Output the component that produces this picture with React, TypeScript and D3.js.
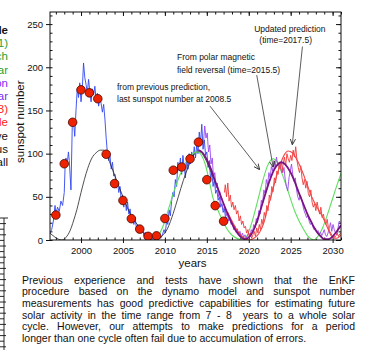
import React, { useEffect, useRef } from 'react';
import * as d3 from 'd3';

type Pt = [number, number];

// yearly sunspot numbers (red dots)
const dotYears = [1997, 1998, 1999, 2000, 2001, 2002, 2003, 2004, 2005, 2006, 2007, 2008, 2009, 2010, 2011, 2012, 2013, 2014, 2015, 2016, 2017];
const dotValues = [28.9, 88.3, 136.3, 173.9, 170.4, 163.6, 99.3, 65.3, 45.8, 24.7, 12.6, 4.2, 4.8, 24.9, 80.8, 84.5, 94.0, 113.3, 69.8, 39.8, 21.7];

// observed sunspot number (blue)
const observed: Pt[] = [
  [1996.3, 8], [1996.5, 12], [1996.7, 22], [1996.9, 40], [1997.0, 30], [1997.2, 38], [1997.4, 33], [1997.6, 45],
  [1997.8, 40], [1998.0, 55], [1998.1, 85], [1998.2, 95], [1998.35, 88], [1998.5, 102], [1998.6, 92], [1998.8, 58],
  [1998.95, 130], [1999.1, 138], [1999.25, 120], [1999.4, 150], [1999.55, 175], [1999.7, 165], [1999.85, 182],
  [2000.0, 160], [2000.15, 175], [2000.3, 205], [2000.45, 188], [2000.6, 180], [2000.75, 170], [2000.9, 186],
  [2001.05, 172], [2001.2, 160], [2001.35, 175], [2001.5, 168], [2001.65, 178], [2001.8, 162], [2001.95, 170],
  [2002.1, 155], [2002.25, 165], [2002.4, 158], [2002.55, 148], [2002.7, 157], [2002.85, 140], [2003.0, 118],
  [2003.15, 100], [2003.3, 92], [2003.45, 98], [2003.6, 82], [2003.75, 90], [2003.9, 74], [2004.05, 76],
  [2004.2, 60], [2004.35, 68], [2004.5, 55], [2004.65, 62], [2004.8, 45], [2004.95, 52], [2005.1, 38],
  [2005.25, 50], [2005.4, 34], [2005.55, 44], [2005.7, 30], [2005.85, 36], [2006.0, 24], [2006.15, 28],
  [2006.3, 18], [2006.45, 26], [2006.6, 14], [2006.75, 18], [2006.9, 10], [2007.05, 14], [2007.2, 8],
  [2007.35, 12], [2007.5, 5], [2007.65, 9], [2007.8, 3], [2007.95, 6], [2008.1, 2], [2008.3, 5], [2008.5, 1],
  [2008.7, 3], [2008.9, 2], [2009.1, 1], [2009.3, 4], [2009.5, 2], [2009.7, 6], [2009.9, 12], [2010.05, 8],
  [2010.2, 22], [2010.35, 18], [2010.5, 35], [2010.65, 28], [2010.8, 45], [2010.95, 55], [2011.1, 50],
  [2011.25, 70], [2011.4, 62], [2011.55, 90], [2011.7, 80], [2011.85, 95], [2012.0, 76], [2012.15, 98],
  [2012.3, 85], [2012.45, 72], [2012.6, 95], [2012.75, 82], [2012.9, 100], [2013.05, 88], [2013.2, 102],
  [2013.35, 92], [2013.5, 108], [2013.65, 95], [2013.8, 110], [2013.95, 100], [2014.1, 125], [2014.25, 112],
  [2014.4, 134], [2014.55, 105], [2014.7, 116], [2014.85, 98], [2015.0, 102], [2015.15, 84], [2015.3, 92],
  [2015.45, 70], [2015.6, 78], [2015.75, 62], [2015.9, 70], [2016.05, 54], [2016.2, 58], [2016.35, 46],
  [2016.5, 50], [2016.65, 38], [2016.8, 42], [2016.95, 32], [2017.1, 36], [2017.25, 24], [2017.4, 27],
];

// model curve (black)
const modelCurve: Pt[] = [
  [1996.3, 8], [1996.8, 4], [1997.3, 1], [1997.7, 0], [1998.2, 3], [1998.7, 11], [1999.1, 22], [1999.5, 35],
  [2000.0, 55], [2000.4, 70], [2000.8, 83], [2001.3, 95], [2001.8, 101], [2002.3, 104], [2002.7, 104],
  [2003.1, 98], [2003.5, 88], [2003.9, 78], [2004.4, 65], [2005.0, 50], [2005.5, 38], [2006.0, 28],
  [2006.7, 18], [2007.3, 10], [2007.9, 4], [2008.6, 0], [2009.2, 1], [2009.7, 5], [2010.3, 13], [2011.0, 31],
  [2011.6, 50], [2012.2, 69], [2012.8, 85], [2013.3, 96], [2013.8, 102], [2014.2, 102], [2014.7, 96],
  [2015.2, 86], [2015.7, 74], [2016.2, 62],
];

// previous prediction, last sunspot number at 2008.5 (green)
const prevPrediction: Pt[] = [
  [2008.5, 3], [2009.0, 4], [2009.5, 10], [2010.0, 22], [2010.5, 38], [2011.0, 54], [2011.5, 68], [2012.0, 80],
  [2012.5, 90], [2013.0, 97], [2013.5, 101], [2013.9, 102], [2014.3, 99], [2014.8, 88], [2015.3, 68],
  [2015.7, 50], [2016.3, 35], [2017.0, 20], [2017.6, 10], [2018.2, 4], [2018.8, 1], [2019.3, 0], [2019.8, 5],
  [2020.3, 18], [2021.0, 43], [2021.6, 66], [2022.2, 85], [2022.9, 94], [2023.4, 90], [2024.0, 76],
  [2024.5, 62], [2024.9, 50], [2025.5, 33], [2026.0, 22], [2026.5, 13], [2027.0, 5], [2027.8, 0], [2028.3, 5],
  [2028.8, 14], [2029.3, 27], [2029.8, 42], [2030.4, 60], [2031.0, 77],
];

// polar field reversal prediction, time = 2015.5 (purple)
const polarMean: Pt[] = [
  [2014.0, 104], [2014.5, 101], [2015.0, 93], [2015.5, 82], [2016.0, 68], [2016.5, 55], [2017.0, 42],
  [2017.5, 30], [2018.0, 19], [2018.5, 10], [2019.0, 4], [2019.5, 1], [2020.0, 3], [2020.5, 10], [2021.0, 22],
  [2021.5, 38], [2022.0, 54], [2022.5, 69], [2023.0, 81], [2023.5, 88], [2023.9, 90], [2024.4, 87],
  [2025.0, 78], [2025.5, 67], [2026.0, 54], [2026.5, 42], [2027.0, 30], [2027.5, 20], [2028.0, 11],
  [2028.5, 5], [2029.0, 1], [2029.5, 1], [2030.0, 4], [2030.5, 10], [2031.0, 17],
];
const polarMonthly: Pt[] = [
  [2014.6, 112], [2014.75, 132], [2014.9, 118], [2015.05, 124], [2015.2, 102], [2015.35, 110], [2015.5, 88],
  [2015.65, 95], [2015.8, 72], [2015.95, 78], [2016.1, 60], [2016.25, 66], [2016.4, 50], [2016.55, 56],
  [2016.7, 42], [2016.85, 40], [2017.0, 35], [2017.15, 38], [2017.3, 28], [2017.45, 32], [2017.6, 22],
  [2017.75, 26], [2017.9, 18], [2018.05, 20], [2018.2, 12], [2018.35, 16], [2018.5, 9], [2018.65, 13],
  [2018.8, 6], [2018.95, 10], [2019.1, 4], [2019.25, 8], [2019.4, 3], [2019.55, 6], [2019.7, 2], [2019.85, 5],
  [2020.0, 8], [2020.15, 4], [2020.3, 12], [2020.45, 9], [2020.6, 18], [2020.75, 14], [2020.9, 25],
  [2021.05, 20], [2021.2, 34], [2021.35, 30], [2021.5, 46], [2021.65, 42], [2021.8, 58], [2021.95, 54],
  [2022.1, 70], [2022.25, 64], [2022.4, 78], [2022.55, 72], [2022.7, 85], [2022.85, 80], [2023.0, 92],
  [2023.15, 84], [2023.3, 96], [2023.45, 88], [2023.6, 86], [2023.75, 82], [2023.9, 90], [2024.05, 78],
  [2024.2, 84], [2024.35, 70], [2024.5, 62], [2024.65, 57], [2024.8, 72], [2024.95, 80], [2025.1, 88],
  [2025.25, 76], [2025.4, 68], [2025.55, 72], [2025.7, 58], [2025.85, 50], [2026.0, 46], [2026.15, 52],
  [2026.3, 48], [2026.45, 40], [2026.6, 34], [2026.75, 30], [2026.9, 26], [2027.05, 28], [2027.2, 22],
  [2027.35, 18], [2027.5, 20], [2027.65, 15], [2027.8, 12], [2027.95, 14], [2028.1, 9], [2028.25, 11],
  [2028.4, 7], [2028.55, 9], [2028.7, 5], [2028.85, 8], [2029.0, 12], [2029.15, 6], [2029.3, 4], [2029.45, 8],
  [2029.6, 14], [2029.75, 20], [2029.9, 10], [2030.05, 18], [2030.2, 12], [2030.35, 8], [2030.5, 6],
  [2030.65, 14], [2030.8, 22], [2031.0, 20],
];

// updated prediction, time = 2017.5 (red)
const updatedMean: Pt[] = [
  [2017.5, 32], [2018.0, 22], [2018.5, 13], [2019.0, 6], [2019.5, 2], [2020.1, 0], [2020.6, 2], [2021.0, 5],
  [2021.3, 9], [2021.8, 20], [2022.2, 35], [2022.7, 52], [2023.2, 70], [2023.7, 86], [2024.2, 98],
  [2024.7, 103], [2025.2, 101], [2025.8, 92], [2026.4, 79], [2026.9, 66], [2027.5, 50], [2028.2, 37],
  [2028.8, 27], [2029.4, 14], [2030.0, 3], [2030.5, 2], [2031.0, 6],
];
const updatedMonthly: Pt[] = [
  [2017.1, 55], [2017.2, 64], [2017.35, 50], [2017.5, 66], [2017.65, 45], [2017.8, 52], [2017.95, 38],
  [2018.1, 44], [2018.25, 35], [2018.4, 40], [2018.55, 30], [2018.7, 34], [2018.85, 22], [2019.0, 28],
  [2019.15, 18], [2019.3, 22], [2019.45, 14], [2019.6, 16], [2019.75, 8], [2019.9, 12], [2020.05, 4],
  [2020.2, 8], [2020.35, 2], [2020.5, 6], [2020.65, 10], [2020.8, 4], [2020.95, 14], [2021.1, 8],
  [2021.25, 18], [2021.4, 12], [2021.55, 24], [2021.7, 18], [2021.85, 32], [2022.0, 26], [2022.15, 40],
  [2022.3, 34], [2022.45, 52], [2022.6, 46], [2022.75, 62], [2022.9, 56], [2023.05, 72], [2023.2, 66],
  [2023.35, 80], [2023.5, 76], [2023.65, 90], [2023.8, 84], [2023.95, 78], [2024.1, 88], [2024.25, 96],
  [2024.4, 86], [2024.55, 100], [2024.7, 94], [2024.85, 90], [2025.0, 98], [2025.15, 92], [2025.3, 104],
  [2025.45, 96], [2025.6, 108], [2025.75, 92], [2025.9, 84], [2026.05, 78], [2026.2, 86], [2026.35, 72],
  [2026.5, 64], [2026.65, 70], [2026.8, 60], [2026.95, 68], [2027.1, 54], [2027.25, 50], [2027.4, 58],
  [2027.55, 44], [2027.7, 38], [2027.85, 42], [2028.0, 34], [2028.15, 44], [2028.3, 36], [2028.45, 30],
  [2028.6, 38], [2028.75, 26], [2028.9, 30], [2029.05, 22], [2029.2, 18], [2029.35, 24], [2029.5, 14],
  [2029.65, 10], [2029.8, 8], [2029.95, 4], [2030.1, 6], [2030.25, 3], [2030.4, 5], [2030.55, 8],
  [2030.7, 4], [2030.85, 7], [2031.0, 8],
];

const majorYears = [2000, 2005, 2010, 2015, 2020, 2025, 2030];
const majorValues = [0, 50, 100, 150, 200, 250];

// cropped legend text on the left edge of the slide
const sideFragments = ['le', '1)', 'ch', 'ar', 'on', 'ar', '3)', 'le', 've', 'us', 'all'];
const sideColors = ['#111', '#2ca02c', '#2ca02c', '#2ca02c', '#7a2df0', '#7a2df0', '#ff2020', '#ff2020', '#111', '#111', '#111'];

const bodyLines = [
  'Previous experience and tests have shown that the EnKF',
  'procedure based on the dynamo model and sunspot number',
  'measurements has good predictive capabilities for estimating future',
  'solar activity in the time range from 7 - 8  years to a whole solar',
  'cycle. However, our attempts to make predictions for a period',
  'longer than one cycle often fail due to accumulation of errors.',
];

export default function App() {
  const svgRef = useRef<SVGSVGElement>(null);

  useEffect(() => {
    if (!svgRef.current) return;
    const svg = d3.select(svgRef.current);
    svg.selectAll('*').remove();
    const font = 'Arial, "Liberation Sans", Helvetica, sans-serif';

    const x = d3.scaleLinear().domain([1996.3, 2031]).range([50, 341]);
    const y = d3.scaleLinear().domain([0, 264]).range([240, 12]);

    const defs = svg.append('defs');
    defs.append('clipPath').attr('id', 'plot').append('rect')
      .attr('x', 50).attr('y', 12).attr('width', 291).attr('height', 228);
    defs.append('marker').attr('id', 'arr').attr('viewBox', '0 0 8 8')
      .attr('refX', 7).attr('refY', 4).attr('markerWidth', 6).attr('markerHeight', 6)
      .attr('markerUnits', 'userSpaceOnUse').attr('orient', 'auto')
      .append('path').attr('d', 'M0,0.5 L8,4 L0,7.5').attr('fill', 'none').attr('stroke', '#333').attr('stroke-width', 1.2);

    // axes
    const styleAxis = (g: d3.Selection<SVGGElement, unknown, null, undefined>) => {
      g.select('.domain').remove();
      g.selectAll('line').attr('stroke', '#111');
      g.selectAll('text').attr('font-family', font).attr('font-size', 9.5).attr('fill', '#111');
    };
    const minorYears = d3.range(1997, 2032);
    const minorValues = d3.range(0, 261, 10);

    svg.append('g').attr('transform', 'translate(0,240)')
      .call(d3.axisBottom(x).tickValues(minorYears).tickSize(-2.5).tickFormat(() => '')).call(styleAxis);
    svg.append('g').attr('transform', 'translate(0,240)')
      .call(d3.axisBottom(x).tickValues(majorYears).tickSize(3).tickPadding(4).tickFormat(d3.format('d'))).call(styleAxis);
    svg.append('g').attr('transform', 'translate(0,12)')
      .call(d3.axisTop(x).tickValues(minorYears).tickSize(-2.5).tickFormat(() => '')).call(styleAxis);
    svg.append('g').attr('transform', 'translate(0,12)')
      .call(d3.axisTop(x).tickValues(majorYears).tickSize(-4).tickFormat(() => '')).call(styleAxis);

    svg.append('g').attr('transform', 'translate(50,0)')
      .call(d3.axisLeft(y).tickValues(minorValues).tickSize(-2.5).tickFormat(() => '')).call(styleAxis);
    svg.append('g').attr('transform', 'translate(50,0)')
      .call(d3.axisLeft(y).tickValues(majorValues).tickSize(4).tickPadding(3).tickFormat(d3.format('d'))).call(styleAxis);
    svg.append('g').attr('transform', 'translate(341,0)')
      .call(d3.axisRight(y).tickValues(minorValues).tickSize(-2.5).tickFormat(() => '')).call(styleAxis);
    svg.append('g').attr('transform', 'translate(341,0)')
      .call(d3.axisRight(y).tickValues(majorValues).tickSize(-5).tickFormat(() => '')).call(styleAxis);

    // series
    const plot = svg.append('g').attr('clip-path', 'url(#plot)');
    const line = d3.line<Pt>().x(d => x(d[0])).y(d => y(d[1]));
    const smooth = d3.line<Pt>().x(d => x(d[0])).y(d => y(d[1])).curve(d3.curveMonotoneX);
    const draw = (data: Pt[], gen: d3.Line<Pt>, color: string, w: number) =>
      plot.append('path').datum(data).attr('d', gen).attr('fill', 'none')
        .attr('stroke', color).attr('stroke-width', w).attr('stroke-linejoin', 'round');

    draw(observed, line, '#3146ee', 0.9);
    draw(modelCurve, smooth, '#222', 0.8);
    draw(prevPrediction, smooth, '#5ee05e', 1.1);
    draw(polarMonthly, line, '#9b45f0', 0.9);
    draw(updatedMonthly, line, '#f03a3a', 0.9);
    draw(updatedMean, smooth, '#f04848', 1.1);
    draw(polarMean, smooth, '#7a1382', 1.8);

    plot.selectAll('circle').data(dotYears).enter().append('circle')
      .attr('cx', d => x(d)).attr('cy', (_d, i) => y(dotValues[i]))
      .attr('r', 4.3).attr('fill', '#ee2200').attr('stroke', '#4a0800').attr('stroke-width', 0.8);

    // frame
    svg.append('rect').attr('x', 50).attr('y', 12).attr('width', 291).attr('height', 228)
      .attr('fill', 'none').attr('stroke', '#111').attr('stroke-width', 1);

    // annotations (data coordinates)
    const note = (yr: number, v: number, txt: string, anchor = 'start') =>
      svg.append('text').attr('x', x(yr)).attr('y', y(v)).attr('text-anchor', anchor)
        .attr('font-family', font).attr('font-size', 8.5).attr('fill', '#111').text(txt);
    note(2024.9, 240.8, 'Updated prediction', 'middle');
    note(2024.4, 228, '(time=2017.5)', 'middle');
    note(2011.44, 208.4, 'From polar magnetic');
    note(2011.44, 193.4, 'field reversal (time=2015.5)');
    note(2004.29, 173.7, 'from previous prediction,');
    note(2004.29, 159.8, 'last sunspot number at 2008.5');

    const arrows: [number, number, number, number][] = [
      [2026.4, 224, 2025.2, 111],
      [2020.95, 191, 2022.9, 85],
      [2015.38, 155, 2021.25, 82],
    ];
    arrows.forEach(([x0, y0, x1, y1]) => {
      svg.append('line').attr('x1', x(x0)).attr('y1', y(y0)).attr('x2', x(x1)).attr('y2', y(y1))
        .attr('stroke', '#333').attr('stroke-width', 0.8).attr('marker-end', 'url(#arr)');
    });

    // axis titles
    svg.append('text').attr('transform', `translate(24,${y(137)}) rotate(-90)`).attr('text-anchor', 'middle')
      .attr('font-family', font).attr('font-size', 11.5).attr('fill', '#111').text('sunspot number');
    svg.append('text').attr('x', x(2013.3)).attr('y', 266.5).attr('text-anchor', 'middle')
      .attr('font-family', font).attr('font-size', 11.5).attr('fill', '#111').text('years');

    // cropped side text
    sideFragments.forEach((t, i) => {
      svg.append('text').attr('x', 8).attr('y', 34 + i * 13.2).attr('text-anchor', 'end')
        .attr('font-family', font).attr('font-size', 11.5).attr('font-weight', i === 0 ? 'bold' : 'normal')
        .attr('fill', sideColors[i]).text(t);
    });

    // cropped neighbouring axis at lower left
    const side = svg.append('g').attr('stroke', '#111').attr('stroke-width', 0.9);
    side.append('line').attr('x1', 4).attr('x2', 4).attr('y1', 218).attr('y2', 350);
    side.append('line').attr('x1', 0).attr('x2', 8).attr('y1', 218).attr('y2', 218);
    d3.range(223.6, 350, 5.6).forEach((yy, i) => {
      side.append('line').attr('x1', 0).attr('x2', i % 2 === 0 ? 6 : 4).attr('y1', yy).attr('y2', yy);
    });

    // justified body text
    const x0 = 22, x1 = 355;
    bodyLines.forEach((ln, i) => {
      const by = 283.5 + i * 11.7;
      const g = svg.append('g').attr('font-family', font).attr('font-size', 10.5).attr('fill', '#111');
      if (i === bodyLines.length - 1) {
        g.append('text').attr('x', x0).attr('y', by).text(ln);
        return;
      }
      const words = ln.split(' ');
      const nodes = words.map(w => g.append('text').attr('y', by).text(w));
      const widths = nodes.map(n => (n.node() as SVGTextElement).getComputedTextLength());
      const gap = (x1 - x0 - d3.sum(widths)) / (words.length - 1);
      let cx = x0;
      nodes.forEach((n, j) => {
        n.attr('x', cx);
        cx += widths[j] + gap;
      });
    });
  }, []);

  return (
    <svg ref={svgRef} width={366} height={350}
      style={{ position: 'absolute', left: 0, top: 0, background: '#fff' }} />
  );
}
